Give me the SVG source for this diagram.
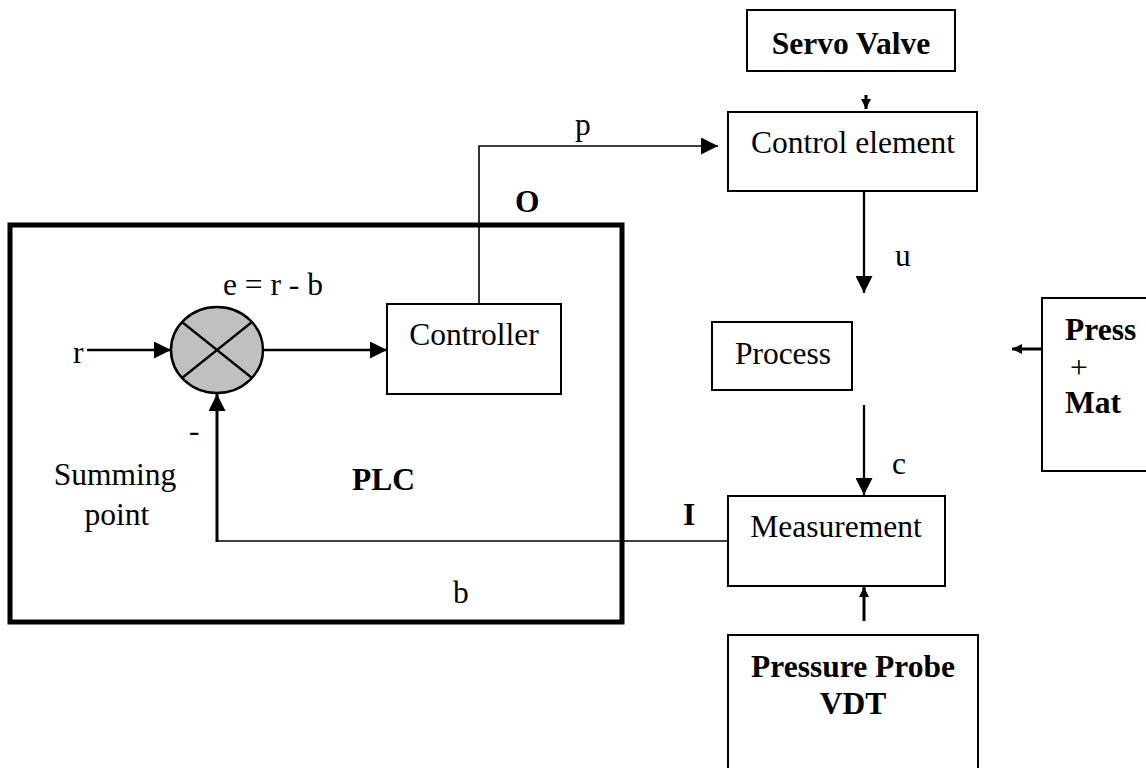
<svg xmlns="http://www.w3.org/2000/svg" width="1146" height="768" viewBox="0 0 1146 768">
<style>
text{font-family:"Liberation Serif","Times New Roman",serif;font-size:31.5px;fill:#000}
.b{font-weight:bold}
.m{text-anchor:middle}
.box{fill:#fff;stroke:#000;stroke-width:2}
.ln{fill:none;stroke:#000;stroke-width:2.3}
.thin{fill:none;stroke:#000;stroke-width:1.6}
.sm{fill:none;stroke:#000;stroke-width:3}
</style>
<defs>
<marker id="ah" markerUnits="userSpaceOnUse" markerWidth="17" markerHeight="17" refX="17" refY="8.5" orient="auto"><path d="M0,0 L17,8.5 L0,17 z" fill="#000"/></marker>
<marker id="as" markerUnits="userSpaceOnUse" markerWidth="10" markerHeight="10" refX="10" refY="5" orient="auto"><path d="M0,0 L10,5 L0,10 z" fill="#000"/></marker>
</defs>
<rect width="1146" height="768" fill="#fff"/>
<g id="plc">
<rect x="10" y="225" width="612" height="397" fill="none" stroke="#000" stroke-width="5"/>
<text class="b" x="352" y="490">PLC</text>
</g>
<g id="summing">
<ellipse cx="217" cy="350" rx="46" ry="43" fill="#c0c0c0" stroke="#000" stroke-width="2.5"/>
<line x1="182" y1="322" x2="252" y2="378" stroke="#000" stroke-width="2.3"/>
<line x1="252" y1="322" x2="182" y2="378" stroke="#000" stroke-width="2.3"/>
<text x="223" y="295">e = r - b</text>
<text class="m" x="115" y="485">Summing</text>
<text class="m" x="117" y="525">point</text>
</g>
<g id="controller">
<rect class="box" x="387" y="304" width="174" height="90"/>
<text class="m" x="474" y="345">Controller</text>
</g>
<g id="servo">
<rect class="box" x="747" y="10" width="208" height="61"/>
<text class="b m" x="851" y="54">Servo Valve</text>
</g>
<g id="control-element">
<rect class="box" x="728" y="112" width="249" height="79"/>
<text class="m" x="853" y="153">Control element</text>
</g>
<g id="process">
<rect class="box" x="712" y="322" width="140" height="68"/>
<text class="m" x="783" y="364">Process</text>
</g>
<g id="press-mat">
<rect class="box" x="1042" y="298" width="120" height="173"/>
<text class="b" x="1065" y="340">Press</text>
<text x="1070" y="378">+</text>
<text class="b" x="1065" y="413">Mat</text>
</g>
<g id="measurement">
<rect class="box" x="728" y="496" width="217" height="90"/>
<text class="m" x="836" y="537">Measurement</text>
</g>
<g id="probe">
<rect class="box" x="728" y="635" width="250" height="145"/>
<text class="b m" x="853" y="677">Pressure Probe</text>
<text class="b m" x="853" y="714">VDT</text>
</g>
<g id="connectors">
<line class="ln" x1="87" y1="350" x2="171" y2="350" marker-end="url(#ah)"/>
<line class="ln" x1="263" y1="350" x2="387" y2="350" marker-end="url(#ah)"/>
<polyline class="thin" points="479,304 479,146 718,146" marker-end="url(#ah)"/>
<line class="sm" x1="866" y1="95" x2="866" y2="109" marker-end="url(#as)"/>
<line class="ln" x1="864" y1="192" x2="864" y2="293" marker-end="url(#ah)"/>
<line class="ln" x1="864" y1="405" x2="864" y2="495" marker-end="url(#ah)"/>
<line class="sm" x1="864" y1="621" x2="864" y2="587" marker-end="url(#as)"/>
<line class="sm" x1="1042" y1="349" x2="1012" y2="349" marker-end="url(#as)"/>
<polyline class="thin" points="728,541 217,541"/>
<line class="sm" x1="217" y1="542" x2="217" y2="394" marker-end="url(#ah)"/>
</g>
<g id="labels">
<text x="73" y="363">r</text>
<text x="189" y="441">-</text>
<text x="575" y="135">p</text>
<text class="b" x="515" y="212">O</text>
<text x="895" y="266">u</text>
<text x="892" y="474">c</text>
<text class="b" x="683" y="525">I</text>
<text x="453" y="603">b</text>
</g>
</svg>
